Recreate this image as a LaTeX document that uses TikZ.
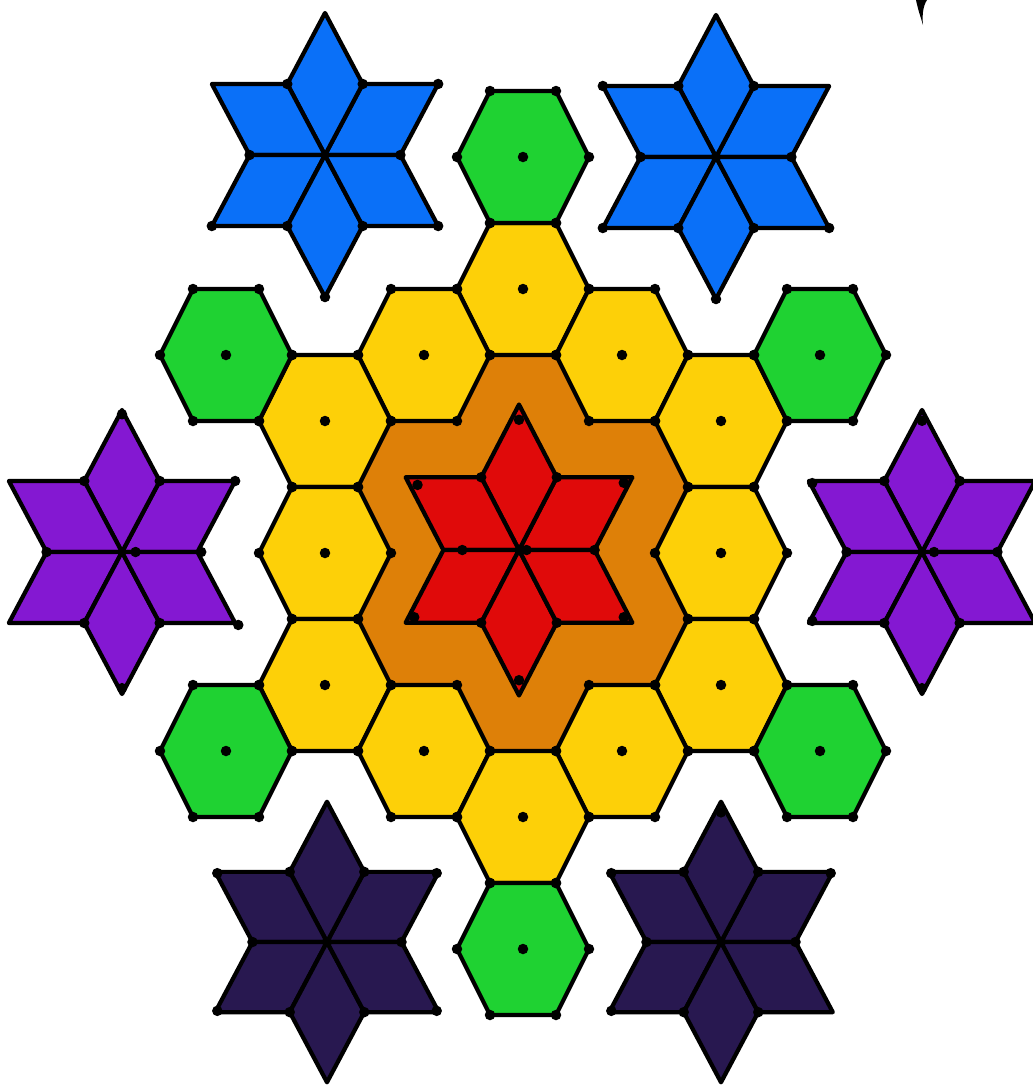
\documentclass[tikz,border=0pt]{standalone}
\definecolor{cyel}{HTML}{FDD008}
\definecolor{corg}{HTML}{DE8008}
\definecolor{cred}{HTML}{E00A0A}
\definecolor{cgrn}{HTML}{1FD232}
\definecolor{cblu}{HTML}{0A70F8}
\definecolor{cpur}{HTML}{8418D2}
\definecolor{cnav}{HTML}{281850}
\tikzset{
  tile/.style={draw=black, line width=2.4pt, line join=round},
  blob/.style={circle, fill=black, draw=none, inner sep=0pt, minimum size=0.21cm},
}
\newcommand\hexcell[3]{% q, r, style
  \begin{scope}[shift={({523+(#1)*99},{553-(#2)*66})}]
    \path[#3] (66,0) -- (33,-66) -- (-33,-66) -- (-66,0) -- (-33,66) -- (33,66) -- cycle;
  \end{scope}}
\newcommand\hexdots[3]{% q, r, name
  \begin{scope}[shift={({523+(#1)*99},{553-(#2)*66})}]
    \node[blob] (#3c) at (0,0) {};
    \node[blob] (#3a) at (66,0) {};
    \node[blob] (#3b) at (33,-66) {};
    \node[blob] (#3d) at (-33,-66) {};
    \node[blob] (#3e) at (-66,0) {};
    \node[blob] (#3f) at (-33,66) {};
    \node[blob] (#3g) at (33,66) {};
  \end{scope}}
\newcommand\sixstar[5]{% x, y, colour, s, xscale
  \begin{scope}[shift={(#1,#2)}, xscale=#5, yscale=-1]
    \foreach \ang in {30,90,...,330}{
      \filldraw[tile, fill=#3] (0,0) -- ({\ang-30}:#4) -- (\ang:{#4*1.732}) -- ({\ang+30}:#4) -- cycle;}
  \end{scope}}
\newcommand\stardots[6]{% x, y, s, xscale, name, list
  \begin{scope}[shift={(#1,#2)}, xscale=#4, yscale=-1]
    \foreach \a/\f [count=\n] in {#6}{\node[blob] (#5-\n) at ({\a}:{\f*#3}) {};}
  \end{scope}}
\begin{document}
\begin{tikzpicture}[x=0.02cm, y=-0.02cm]
  \fill[white] (0,0) rectangle (1032,1086);
  \useasboundingbox (0,0) rectangle (1032,1086);
  % orange core
  \foreach \q/\r in {0/0,0/2,0/-2,-1/1,1/1,-1/-1,1/-1}{\hexcell{\q}{\r}{fill=corg, draw=corg, line width=1pt}}
  % yellow ring
  \foreach \q/\r in {0/4,-1/3,1/3,-2/2,2/2,-2/0,2/0,-2/-2,2/-2,-1/-3,1/-3,0/-4}{\hexcell{\q}{\r}{tile, fill=cyel}}
  % green corners
  \foreach \q/\r in {0/6,-3/3,3/3,-3/-3,3/-3,0/-6}{\hexcell{\q}{\r}{tile, fill=cgrn}}
  % stars
  \sixstar{325}{155}{cblu}{82}{0.92}
  \sixstar{716}{157}{cblu}{82}{0.92}
  \sixstar{122}{552}{cpur}{82}{0.92}
  \sixstar{922}{552}{cpur}{82}{0.92}
  \sixstar{327}{942}{cnav}{81}{0.92}
  \sixstar{721}{942}{cnav}{81}{0.92}
  \sixstar{519}{550}{cred}{84}{0.9}
  % dots on hexagons
  \foreach \q/\r [count=\i] in {0/4,-1/3,1/3,-2/2,2/2,-2/0,2/0,-2/-2,2/-2,-1/-3,1/-3,0/-4}{\hexdots{\q}{\r}{Y\i}}
  \foreach \q/\r [count=\i] in {0/6,-3/3,3/3,-3/-3,3/-3,0/-6}{\hexdots{\q}{\r}{G\i}}
  % dots on stars
  \stardots{325}{155}{82}{0.92}{BL}{0/1,60/1,120/1,180/1,240/1,300/1,30/1.732,210/1.732,270/1.732,330/1.732}
  \stardots{716}{157}{82}{0.92}{BR}{0/1,60/1,120/1,180/1,240/1,300/1,150/1.732,210/1.732,270/1.732,330/1.732,0/0}
  \stardots{122}{552}{82}{0.92}{PL}{0/1.05,60/1,120/1,180/1,240/1,300/1,90/1.68,30/1.732,330/1.78,270/1.66,0/0.18}
  \stardots{922}{552}{82}{0.92}{PR}{0/1,60/1,120/1,180/1,240/1,300/1,90/1.6,150/1.68,210/1.68,270/1.66,0/0.16}
  \stardots{327}{942}{81}{0.92}{NL}{0/1,60/1,120/1,180/1,240/1,300/1,150/1.7,30/1.7,210/1.7,330/1.7,0/0}
  \stardots{721}{942}{81}{0.92}{NR}{0/1,60/1,120/1,180/1,240/1,300/1,90/1.6,150/1.7,30/1.7,210/1.7,0/0}
  \stardots{519}{550}{84}{0.9}{RD}{0/1,60/1,120/1,180/0.75,240/1,300/1,90/1.55,150/1.55,30/1.6,210/1.6,330/1.6,270/1.55,0/0.1}
  % small stroke at the top right
  \fill[black] (916,0) .. controls (918,10) and (921,18) .. (923,25) .. controls (922,15) and (923,6) .. (927,0) -- cycle;
\end{tikzpicture}
\end{document}
